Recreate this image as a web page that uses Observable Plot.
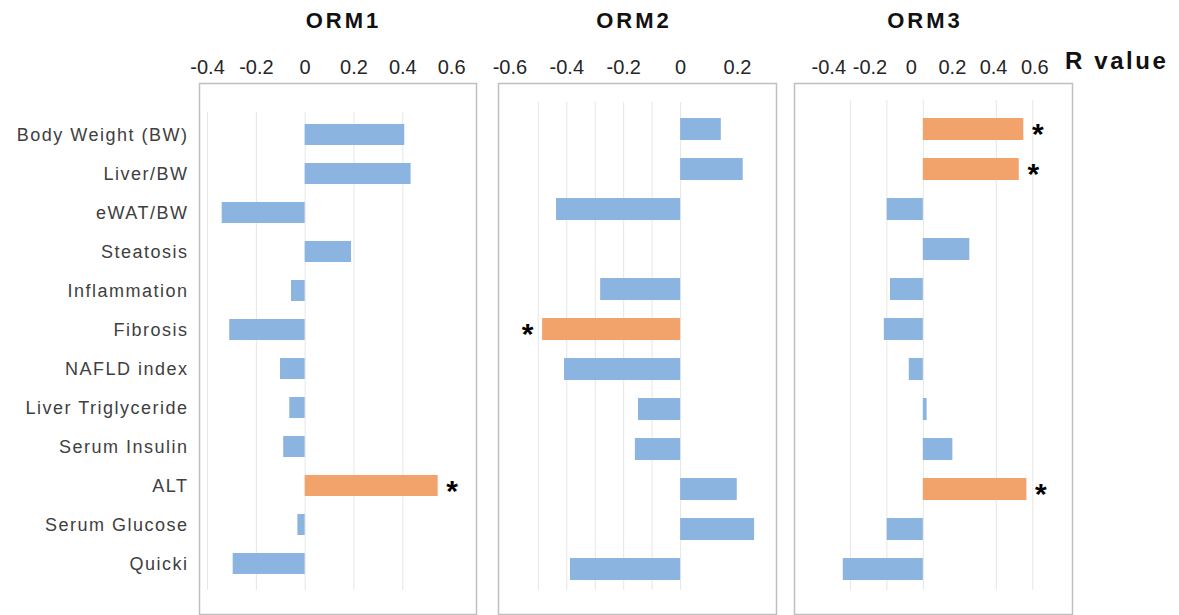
<!DOCTYPE html>
<html>
<head>
<meta charset="utf-8">
<script src="https://cdn.jsdelivr.net/npm/d3@7"></script>
<script src="https://cdn.jsdelivr.net/npm/@observablehq/plot@0.6"></script>
<style>
  body { margin: 0; background: #fff; }
  #chart { position: relative; width: 1179px; height: 615px; overflow: hidden;
           font-family: "Liberation Sans", Arial, sans-serif; background: #fff; }
  .panel { position: absolute; top: 0; }
  .panel svg { overflow: visible; }
  .title { position: absolute; top: 10px; font-size: 22px; line-height: 22px; font-weight: bold;
           letter-spacing: 3px; color: #111; transform: translateX(-50%); white-space: nowrap; }
  .unit { position: absolute; left: 1065px; top: 49px; font-size: 24px; line-height: 24px;
          font-weight: bold; letter-spacing: 2.6px; color: #111; white-space: nowrap; }
  .panel g[aria-label^="x-axis"] text { font-size: 20px; fill: #262626; }
  .panel g[aria-label^="y-axis"] text { font-size: 18px; letter-spacing: 1.5px; fill: #404040; }
</style>
</head>
<body>
<div id="chart"></div>
<script>
// Correlation (R value) of each ORM isoform with metabolic / liver parameters
const categories = [
  "Body Weight (BW)", "Liver/BW", "eWAT/BW", "Steatosis", "Inflammation", "Fibrosis",
  "NAFLD index", "Liver Triglyceride", "Serum Insulin", "ALT", "Serum Glucose", "Quicki"
];
const panelNames = ["ORM1", "ORM2", "ORM3"];

const orm1 = [0.408, 0.434, -0.340, 0.190, -0.056, -0.309, -0.101, -0.063, -0.088, 0.545, -0.030, -0.295];
const orm2 = [0.143, 0.220, -0.436, 0, -0.281, -0.485, -0.408, -0.148, -0.159, 0.199, 0.260, -0.387];
const orm3 = [0.551, 0.526, -0.198, 0.255, -0.180, -0.214, -0.077, 0.021, 0.162, 0.568, -0.198, -0.439];

// parameters with a significant correlation (marked with *)
const orm1Sig = ["ALT"];
const orm2Sig = ["Fibrosis"];
const orm3Sig = ["Body Weight (BW)", "Liver/BW", "ALT"];

// axis tick labels and gridline values
const orm1Ticks = [-0.4, -0.2, 0, 0.2, 0.4, 0.6];
const orm2Ticks = [-0.6, -0.4, -0.2, 0, 0.2];
const orm3Ticks = [-0.4, -0.2, 0, 0.2, 0.4, 0.6];
const orm1Grid = [-0.4, -0.2, 0, 0.2, 0.4];
const orm2Grid = [-0.5, -0.4, -0.3, -0.2, -0.1, 0];
const orm3Grid = [-0.4, -0.2, 0, 0.4, 0.6];

const BLUE = "#8cb4e0";
const ORANGE = "#f2a36b";
const H = 615;
const FONT = '"Liberation Sans", Arial, sans-serif';
const chart = document.getElementById("chart");

const tickFormat = d => d === 0 ? "0" : String(d);

function place(svg, left) {
  const holder = document.createElement("div");
  holder.className = "panel";
  holder.style.left = left + "px";
  holder.appendChild(svg);
  chart.appendChild(holder);
}

function drawPanel(cfg) {
  const rows = categories.map((cat, i) => ({cat, r: cfg.values[i], sig: cfg.sig.includes(cat)}));
  const starStyle = {x: "r", y: "cat", text: () => "*", fontSize: 30, fontWeight: "bold", fill: "#000", dy: 5};
  const svg = Plot.plot({
    width: cfg.width,
    height: H,
    marginTop: 83,
    marginBottom: 1,
    marginLeft: cfg.marginLeft,
    marginRight: cfg.marginRight,
    style: {fontFamily: FONT, background: "transparent"},
    x: {
      domain: cfg.domain, axis: cfg.ownAxis ? "top" : null, ticks: cfg.ticks,
      tickFormat, tickSize: 0, tickPadding: 10, label: null
    },
    y: {
      domain: categories, range: cfg.yRange,
      paddingInner: cfg.padInner, paddingOuter: cfg.padInner / 2,
      axis: cfg.showY ? "left" : null, tickSize: 0, tickPadding: 11, label: null
    },
    marks: [
      Plot.ruleX(cfg.grid, {stroke: "#e6e6e6", strokeWidth: 1, insetTop: cfg.gridTop, insetBottom: 24}),
      Plot.barX(rows.filter(d => !d.sig), {x: "r", y: "cat", fill: BLUE}),
      Plot.barX(rows.filter(d => d.sig), {x: "r", y: "cat", fill: ORANGE}),
      Plot.text(rows.filter(d => d.sig && d.r > 0), {...starStyle, dx: 14}),
      Plot.text(rows.filter(d => d.sig && d.r < 0), {...starStyle, dx: -15}),
      Plot.frame({stroke: "#bfbfbf", strokeWidth: 1.5})
    ]
  });
  place(svg, cfg.left);
}

// a stand-alone top axis, used where the printed tick labels are spread
// wider than the panel's gridlines
function drawTopAxis(cfg) {
  const svg = Plot.plot({
    width: cfg.width,
    height: 84,
    marginTop: 83,
    marginBottom: 1,
    marginLeft: cfg.marginLeft,
    marginRight: cfg.marginRight,
    style: {fontFamily: FONT, background: "transparent"},
    x: {domain: cfg.domain, axis: "top", ticks: cfg.ticks, tickFormat, tickSize: 0, tickPadding: 10, label: null}
  });
  place(svg, cfg.left);
}

drawPanel({
  values: orm1, sig: orm1Sig, ticks: orm1Ticks, grid: orm1Grid, ownAxis: true,
  left: 0, width: 490, marginLeft: 199, marginRight: 14,
  domain: [-0.433, 0.702], yRange: [112.8, 585.7], padInner: 0.45, gridTop: 29, showY: true
});
drawPanel({
  values: orm2, sig: orm2Sig, ticks: orm2Ticks, grid: orm2Grid, ownAxis: true,
  left: 490, width: 300, marginLeft: 8, marginRight: 14,
  domain: [-0.640, 0.337], yRange: [106, 592.3], padInner: 0.46, gridTop: 19, showY: false
});
drawPanel({
  values: orm3, sig: orm3Sig, ticks: orm3Ticks, grid: orm3Grid, ownAxis: false,
  left: 790, width: 389, marginLeft: 4, marginRight: 107,
  domain: [-0.7065, 0.818], yRange: [106, 592.3], padInner: 0.46, gridTop: 17, showY: false
});
drawTopAxis({
  ticks: orm3Ticks, left: 790, width: 389, marginLeft: 4, marginRight: 107,
  domain: [-0.5665, 0.7830]
});

// panel titles and the shared axis unit
const titleCenters = [343.5, 634, 925];
panelNames.forEach((name, i) => {
  const t = document.createElement("div");
  t.className = "title";
  t.style.left = titleCenters[i] + "px";
  t.textContent = name;
  chart.appendChild(t);
});
const unit = document.createElement("div");
unit.className = "unit";
unit.textContent = "R value";
chart.appendChild(unit);
</script>
</body>
</html>
